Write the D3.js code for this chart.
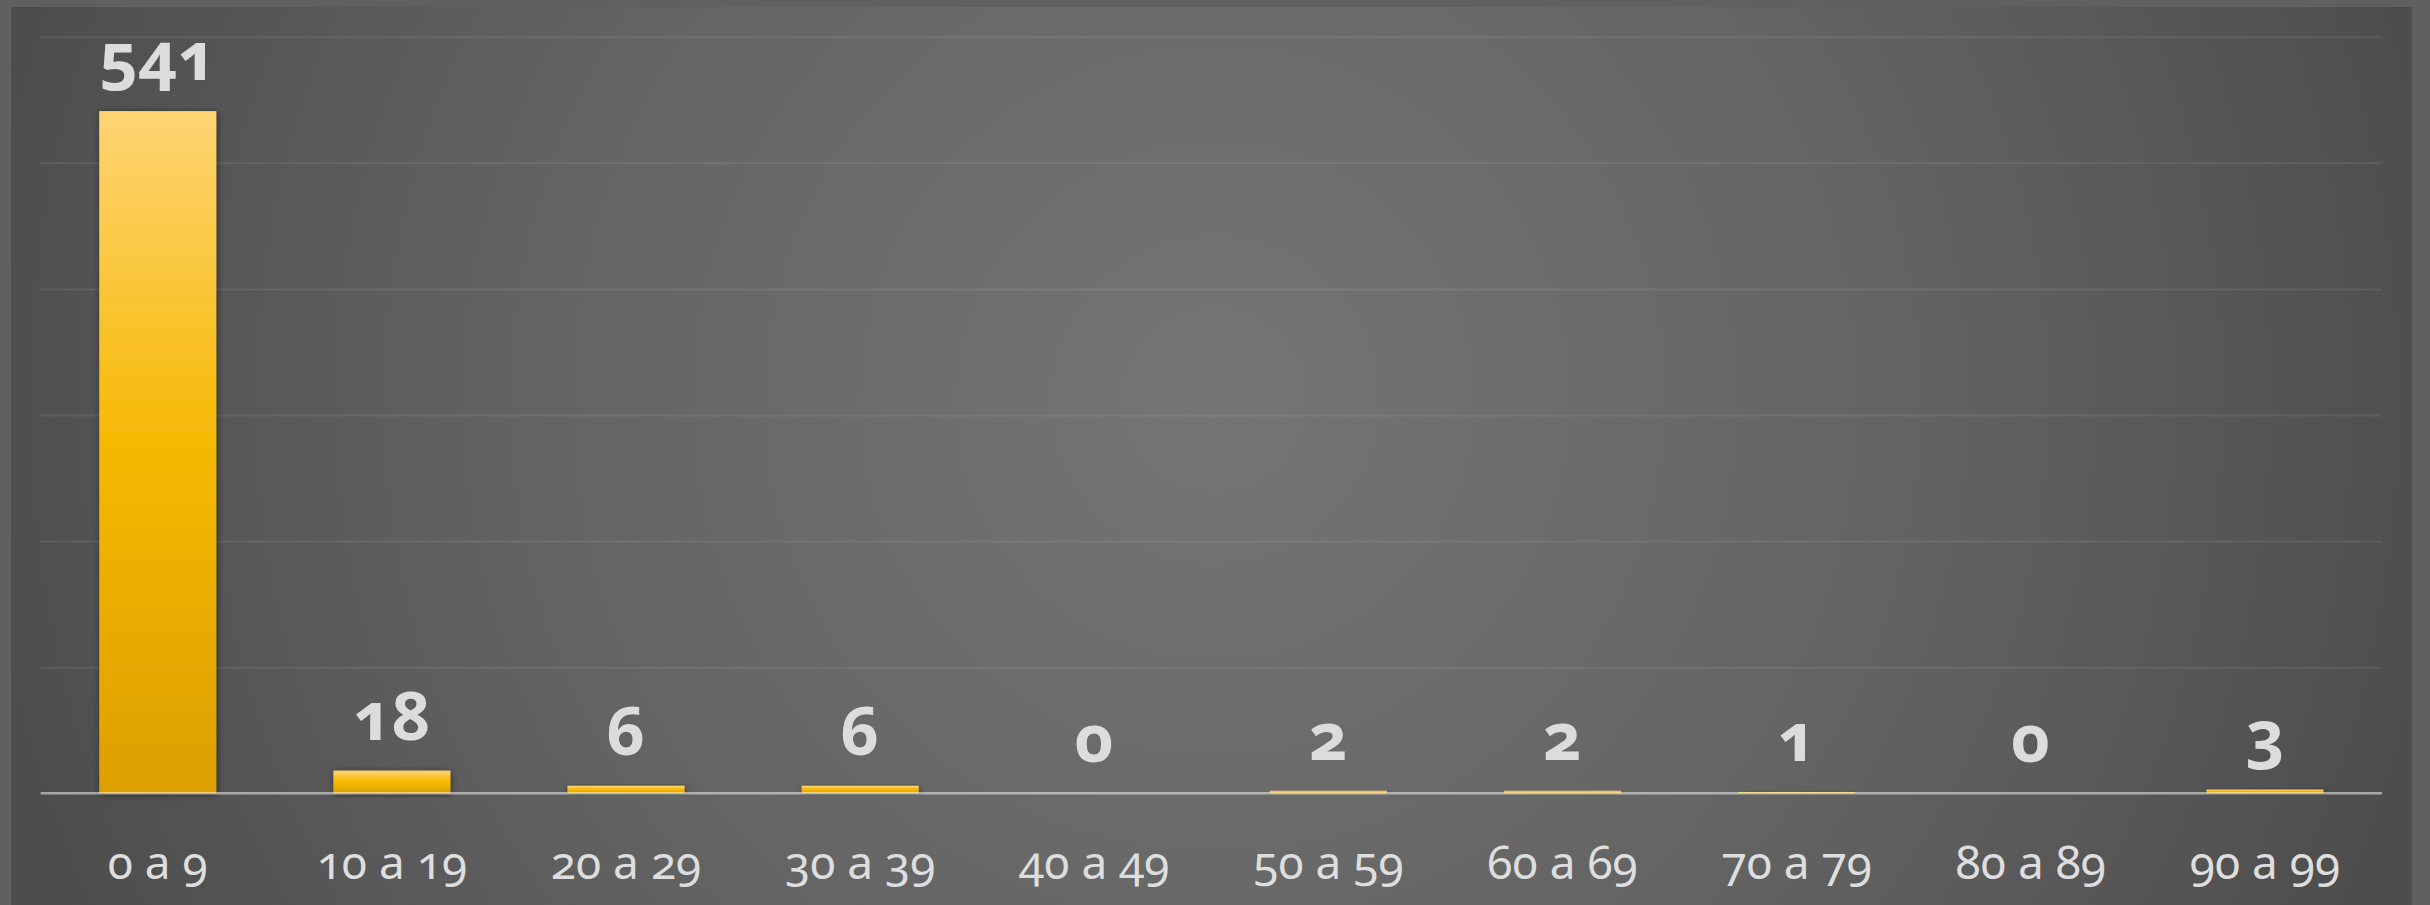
<!DOCTYPE html>
<html>
<head>
<meta charset="utf-8">
<script src="https://cdn.jsdelivr.net/npm/d3@7"></script>
<style>
  html, body { margin: 0; padding: 0; background: #606060; }
  svg { display: block; }
  text { font-family: "Noto Sans", "Open Sans", sans-serif; font-variant-numeric: oldstyle-nums; font-feature-settings: "onum" 1; }
</style>
</head>
<body>
<script>
// ---- data ----
const categories = ["0 a 9", "10 a 19", "20 a 29", "30 a 39", "40 a 49", "50 a 59", "60 a 69", "70 a 79", "80 a 89", "90 a 99"];
const values = [541, 18, 6, 6, 0, 2, 2, 1, 0, 3];
const yTicks = [0, 100, 200, 300, 400, 500, 600];

const W = 2430, H = 905;
const plot = { left: 40.7, right: 2382, top: 36.7, bottom: 793.3 };

const svg = d3.select("body").append("svg").attr("width", W).attr("height", H);
const defs = svg.append("defs");

const bg = defs.append("radialGradient").attr("id", "bg")
  .attr("gradientUnits", "userSpaceOnUse").attr("cx", 1215).attr("cy", 400).attr("r", 1250);
bg.append("stop").attr("offset", 0).attr("stop-color", "#757575");
bg.append("stop").attr("offset", 0.55).attr("stop-color", "#636363");
bg.append("stop").attr("offset", 1).attr("stop-color", "#4d4d4d");

const barG = defs.append("linearGradient").attr("id", "barG").attr("x1", 0).attr("y1", 0).attr("x2", 0).attr("y2", 1);
barG.append("stop").attr("offset", 0).attr("stop-color", "#ffd474");
barG.append("stop").attr("offset", 0.5).attr("stop-color", "#f5b800");
barG.append("stop").attr("offset", 1).attr("stop-color", "#dca000");

const sh = defs.append("filter").attr("id", "sh").attr("x", "-20%").attr("y", "-20%").attr("width", "140%").attr("height", "140%");
sh.append("feDropShadow").attr("dx", 1).attr("dy", 1).attr("stdDeviation", 3.5)
  .attr("flood-color", "#000").attr("flood-opacity", 0.5);

// outer frame + panel
svg.append("rect").attr("width", W).attr("height", H).attr("fill", "#606060");
svg.append("rect").attr("x", 11).attr("y", 7).attr("width", 2401).attr("height", H - 7).attr("fill", "url(#bg)");

const x = d3.scaleBand().domain(categories).range([plot.left, plot.right]).paddingInner(0.5).paddingOuter(0.25);
const y = d3.scaleLinear().domain([0, 600]).range([plot.bottom, plot.top]);

// gridlines
const grid = svg.append("g").attr("transform", `translate(${plot.left},0)`)
  .call(d3.axisLeft(y).tickValues(yTicks.filter(t => t > 0)).tickSize(-(plot.right - plot.left)).tickFormat(""));
grid.select(".domain").remove();
grid.selectAll("line").attr("stroke", "rgba(255,255,255,0.08)").attr("stroke-width", 2);

// bars
svg.append("g").selectAll("rect").data(values).join("rect")
  .attr("x", (d, i) => x(categories[i]))
  .attr("y", d => y(d))
  .attr("width", x.bandwidth())
  .attr("height", d => plot.bottom - y(d))
  .attr("fill", "url(#barG)")
  .attr("filter", "url(#sh)")
  .style("display", d => d > 0 ? null : "none");

// baseline + category labels
const xa = svg.append("g").attr("transform", `translate(0,${plot.bottom})`)
  .call(d3.axisBottom(x).tickSize(0));
xa.select(".domain").attr("stroke", "rgba(255,255,255,0.5)").attr("stroke-width", 2.5)
  .attr("d", `M${plot.left},0H${plot.right}`);
xa.selectAll("text").attr("y", 86).attr("dy", 0)
  .attr("fill", "#dedede").attr("font-size", 46).attr("font-weight", 400);

// data labels
svg.append("g").selectAll("text").data(values).join("text")
  .attr("x", (d, i) => x(categories[i]) + x.bandwidth() / 2)
  .attr("y", d => y(d) - 31)
  .attr("text-anchor", "middle")
  .attr("fill", "#dcdcdc")
  .attr("font-size", 67)
  .attr("font-weight", 700)
  .text(d => d);
</script>
</body>
</html>
